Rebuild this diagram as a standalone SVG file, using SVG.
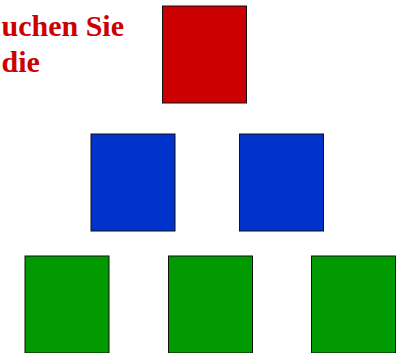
<svg xmlns="http://www.w3.org/2000/svg" width="401" height="353" viewBox="0 0 401 353">
<style>
.box{stroke:#111;stroke-width:1}
.red{fill:#cc0000}
.blue{fill:#0033cc}
.green{fill:#009900}
.lbl{font-family:"Liberation Serif","Times New Roman",serif;font-weight:bold;font-size:30px;fill:#cc0000}
</style>
<rect width="401" height="353" fill="#fff"/>
<g id="label">
<text class="lbl" x="1.5" y="35.5">uchen Sie</text>
<text class="lbl" x="1.5" y="72">die</text>
</g>
<g id="connectors"></g>
<g id="n-top"><rect class="box red" x="162.5" y="6" width="84" height="97"/></g>
<g id="n-mid-left"><rect class="box blue" x="91" y="134" width="84" height="97"/></g>
<g id="n-mid-right"><rect class="box blue" x="239.5" y="134" width="84" height="97"/></g>
<g id="n-bot-left"><rect class="box green" x="25" y="256" width="84" height="97"/></g>
<g id="n-bot-mid"><rect class="box green" x="168.5" y="256" width="84" height="97"/></g>
<g id="n-bot-right"><rect class="box green" x="311.5" y="256" width="84" height="97"/></g>
</svg>
